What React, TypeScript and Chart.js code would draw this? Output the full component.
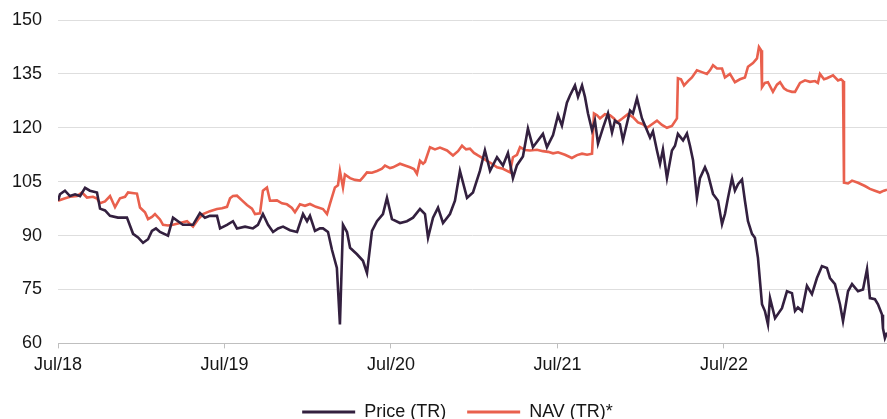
import { useEffect, useRef } from 'react';
import { Chart, registerables } from 'chart.js';

Chart.register(...registerables);

// x values are months since July 2018
const tickMonths = [0, 12, 24, 36, 48];
const tickLabels = ['Jul/18', 'Jul/19', 'Jul/20', 'Jul/21', 'Jul/22'];
const yTicks = [60, 75, 90, 105, 120, 135, 150];

const priceMonths = [
  0, 0.14, 0.5, 0.86, 1.23, 1.59, 1.95, 2.3, 2.81, 3.03, 3.39, 3.75, 4.32, 4.97, 5.41, 5.77, 6.13, 6.49, 6.77, 7.06,
  7.35, 7.93, 8.29, 8.65, 9.0, 9.73, 10.23, 10.59, 10.95, 11.46, 11.68, 12.18, 12.61, 12.9, 13.48, 14.05, 14.41, 14.77, 15.14, 15.5,
  15.86, 16.22, 16.72, 17.23, 17.66, 17.95, 18.16, 18.52, 18.88, 19.1, 19.46, 19.75, 20.1, 20.32, 20.54, 20.83, 21.05, 21.55, 21.98, 22.27,
  22.63, 22.99, 23.42, 23.71, 24.07, 24.65, 25.15, 25.59, 26.09, 26.45, 26.67, 27.03, 27.39, 27.75, 28.25, 28.61, 28.97, 29.48, 29.91, 30.41,
  30.77, 31.14, 31.64, 32.07, 32.43, 32.79, 33.08, 33.51, 33.87, 34.23, 34.95, 35.24, 35.68, 36.04, 36.32, 36.68, 36.9, 37.26, 37.48, 37.77,
  37.98, 38.2, 38.49, 38.7, 38.92, 39.28, 39.64, 39.93, 40.14, 40.5, 40.72, 41.23, 41.44, 41.73, 42.09, 42.45, 42.67, 42.88, 43.17, 43.39,
  43.6, 43.89, 44.25, 44.47, 44.68, 45.05, 45.33, 45.55, 45.77, 46.05, 46.27, 46.63, 46.85, 47.21, 47.57, 47.86, 48.07, 48.29, 48.58, 48.79,
  49.01, 49.3, 49.51, 49.73, 50.02, 50.23, 50.45, 50.74, 50.95, 51.17, 51.32, 51.68, 52.18, 52.54, 52.9, 53.12, 53.33, 53.62, 53.98, 54.34,
  54.7, 55.06, 55.42, 55.64, 56.0, 56.36, 56.58, 56.94, 57.23, 57.66, 58.02, 58.31, 58.52, 58.88, 59.1, 59.39, 59.46, 59.6, 59.75,
];
const priceValues = [
  99.7, 101.5, 102.5, 101, 101.5, 101, 103.3, 102.5, 102, 97.5, 97, 95.5, 95, 95, 90.5, 89.5, 88, 89, 91.3, 92,
  91, 90, 95, 94, 93, 93, 96.3, 95, 95.5, 95.5, 92, 93, 94, 92, 92.5, 92, 93, 96, 93, 91,
  92, 92.5, 91.5, 91, 96, 94, 95.5, 91.3, 92, 92, 91, 86, 81, 65.3, 93, 91, 86.6, 84.8, 83, 79.6,
  91.3, 94, 96, 100.5, 94.6, 93.5, 94, 95, 97.4, 96, 89.4, 95, 97.8, 93.5, 96, 99.7, 108, 100.5, 102, 108,
  113.7, 108, 111.8, 109.5, 113, 106, 109.6, 112, 119.8, 114.6, 118.3, 114.6, 118, 123.5, 120.6, 127, 129, 131.8, 128.6, 131.8,
  128.6, 124, 119.3, 122, 115.6, 120, 124, 118.7, 122, 121, 116.5, 124.8, 124, 128.2, 122.6, 119.3, 117.3, 119, 113.7, 110,
  114, 106, 113.7, 115, 118.3, 116.5, 118.4, 115, 111, 100.5, 106, 109, 107, 101.6, 99.7, 93.2, 96, 100.5, 106, 102.5,
  104.3, 105.6, 99.7, 94, 90.5, 89.4, 83.8, 70.9, 69, 65.3, 72.6, 67, 69.8, 74.5, 74, 69, 70, 69, 76, 73.7,
  78.2, 81.5, 81, 78.2, 76.5, 70.9, 66.2, 74.5, 76.5, 74.5, 75, 80.7, 72.6, 72.3, 70.9, 68, 64.2, 61.5, 63,
];

const navMonths = [
  0, 0.36, 0.86, 1.37, 1.73, 2.09, 2.52, 2.81, 3.03, 3.39, 3.75, 4.11, 4.47, 4.83, 5.05, 5.48, 5.69, 5.91, 6.27, 6.49,
  6.77, 6.99, 7.35, 7.57, 7.93, 8.29, 8.79, 9.3, 9.73, 10.09, 10.45, 10.95, 11.46, 11.82, 12.18, 12.4, 12.61, 12.9, 13.26, 13.62,
  13.98, 14.2, 14.56, 14.77, 15.06, 15.28, 15.78, 16.14, 16.5, 16.86, 17.08, 17.44, 17.8, 18.16, 18.59, 19.1, 19.39, 19.6, 19.96, 20.18,
  20.32, 20.54, 20.68, 21.05, 21.41, 21.77, 21.98, 22.27, 22.63, 22.99, 23.35, 23.57, 23.93, 24.14, 24.65, 25.01, 25.37, 25.66, 25.87, 26.09,
  26.31, 26.45, 26.81, 27.17, 27.53, 28.04, 28.47, 28.83, 29.12, 29.41, 29.69, 29.98, 30.27, 30.63, 30.92, 31.28, 31.64, 32.07, 32.58, 32.79,
  33.08, 33.3, 33.66, 34.02, 34.52, 34.95, 35.32, 35.68, 36.04, 36.54, 37.04, 37.41, 37.77, 38.13, 38.49, 38.63, 38.85, 39.06, 39.42, 39.78,
  40.07, 40.29, 40.65, 41.08, 41.44, 41.8, 42.16, 42.45, 42.81, 43.17, 43.53, 43.89, 44.25, 44.61, 44.68, 44.9, 45.12, 45.41, 45.69, 46.05,
  46.41, 46.77, 46.99, 47.21, 47.5, 47.86, 48.07, 48.43, 48.79, 49.15, 49.51, 49.73, 50.09, 50.38, 50.52, 50.67, 50.74, 50.95, 51.17, 51.53,
  51.82, 52.04, 52.32, 52.54, 52.9, 53.12, 53.48, 53.84, 54.2, 54.56, 54.77, 54.92, 55.21, 55.42, 55.86, 56.22, 56.43, 56.58, 56.65, 56.94,
  57.23, 57.66, 58.16, 58.52, 58.88, 59.24, 59.53, 59.75,
];
const navValues = [
  99.7, 100.2, 100.8, 101, 102, 100.6, 100.8, 100.3, 99, 99.5, 101, 97.9, 100.4, 100.8, 102, 101.8, 101.7, 97.8, 96.5, 94.6,
  95.2, 96, 94.5, 93, 92.8, 93, 93.5, 94, 92.5, 94.5, 96, 96.8, 97.4, 97.6, 98, 100.4, 101, 101.1, 99.8, 98.5,
  97.5, 96, 96.2, 102.5, 103.4, 99.7, 99.8, 99, 98.7, 97.7, 96.5, 98.7, 98.3, 98.8, 98, 97.4, 96, 98.8, 103.4, 104,
  108, 103.4, 107, 106, 105.5, 105.3, 106.2, 107.6, 107.5, 108, 108.6, 109.5, 108.8, 109, 110, 109.5, 109, 108.5, 107.2, 110.8,
  110, 110.5, 114.6, 114, 114.5, 113.7, 112.3, 113.5, 115, 114, 114.2, 113, 112.3, 111.5, 110.8, 110, 109, 108.6, 107.6, 111.8,
  112.5, 114.6, 113.8, 113.7, 113.9, 113.5, 113.3, 112.9, 113.2, 112.5, 111.6, 112.4, 112.8, 112.5, 112.8, 124, 123.5, 122.6, 123.8, 123.5,
  122.6, 121.5, 122.5, 123.8, 123, 121.5, 121, 120, 121, 122, 120.8, 120, 120.5, 122.6, 133.8, 133.5, 131.8, 133, 134, 136,
  135.5, 135, 136, 137.4, 136.5, 136.5, 134, 135, 132.7, 133.5, 134, 137, 138, 139.3, 142.5, 141.6, 131.3, 132.5, 132.7, 130,
  132, 132.7, 131, 130.4, 130, 130, 132.5, 133.2, 132.8, 133, 132.5, 135, 133.5, 133.8, 134.6, 133.2, 133.5, 133, 104.7, 104.5,
  105.3, 104.7, 103.8, 103, 102.5, 102, 102.5, 102.8,
];

const seriesNames = ['Price (TR)', 'NAV (TR)*'];
const seriesColors = ['#33203f', '#e9604d'];

const FONT = 'Liberation Sans, Arial, Helvetica, sans-serif';
const TEXT = '#161616';

const legendShift = {
  id: 'legendShift',
  afterLayout(chart: any) {
    const lg = chart.legend;
    if (lg) {
      lg.left += 14;
      lg.right += 14;
    }
  },
};

export default function App() {
  const ref = useRef<HTMLCanvasElement | null>(null);

  useEffect(() => {
    document.body.style.margin = '0';
    const canvas = ref.current;
    if (!canvas) return;
    const toPts = (xs: number[], ys: number[]) => xs.map((x, i) => ({ x, y: ys[i] }));
    const chart = new Chart(canvas, {
      type: 'line',
      data: {
        datasets: [
          {
            label: seriesNames[0],
            data: toPts(priceMonths, priceValues),
            borderColor: seriesColors[0],
            backgroundColor: seriesColors[0],
            borderWidth: 2.6,
            pointRadius: 0,
            tension: 0,
          },
          {
            label: seriesNames[1],
            data: toPts(navMonths, navValues),
            borderColor: seriesColors[1],
            backgroundColor: seriesColors[1],
            borderWidth: 2.6,
            pointRadius: 0,
            tension: 0,
          },
        ],
      },
      plugins: [legendShift],
      options: {
        responsive: false,
        animation: false,
        devicePixelRatio: 1,
        layout: { padding: { top: 20, left: 0, right: 0, bottom: -12 } },
        plugins: {
          tooltip: { enabled: false },
          legend: {
            position: 'bottom',
            labels: {
              boxWidth: 53,
              boxHeight: 3,
              padding: 21,
              color: TEXT,
              font: { family: FONT, size: 18 },
              generateLabels: () =>
                seriesNames.map((n, i) => ({
                  text: n,
                  fillStyle: seriesColors[i],
                  strokeStyle: seriesColors[i],
                  lineWidth: 0,
                  datasetIndex: i,
                  hidden: false,
                  fontColor: TEXT,
                })),
            },
          },
        },
        scales: {
          x: {
            type: 'linear',
            min: 0,
            max: 59.75,
            afterBuildTicks: (s: any) => {
              s.ticks = tickMonths.map((v) => ({ value: v }));
            },
            ticks: {
              autoSkip: false,
              maxRotation: 0,
              padding: 6,
              color: TEXT,
              font: { family: FONT, size: 18 },
              callback: (v: any) => {
                const i = tickMonths.indexOf(Number(v));
                return i >= 0 ? tickLabels[i] : '';
              },
            },
            grid: { drawOnChartArea: false, drawTicks: true, tickLength: 5, color: '#bfbfbf' },
            border: { color: '#bfbfbf' },
          },
          y: {
            min: 60,
            max: 150,
            afterBuildTicks: (s: any) => {
              s.ticks = yTicks.map((v) => ({ value: v }));
            },
            afterFit: (s: any) => {
              s.width = 58;
              s.paddingTop = 0;
              s.paddingBottom = 0;
            },
            ticks: {
              padding: 16,
              color: TEXT,
              font: { family: FONT, size: 18 },
            },
            grid: { color: '#dedede', drawTicks: false, lineWidth: 1 },
            border: { display: false },
          },
        },
      },
    });
    return () => chart.destroy();
  }, []);

  return (
    <div style={{ width: 887, height: 419 }}>
      <canvas ref={ref} width={887} height={419} style={{ display: 'block' }} />
    </div>
  );
}
